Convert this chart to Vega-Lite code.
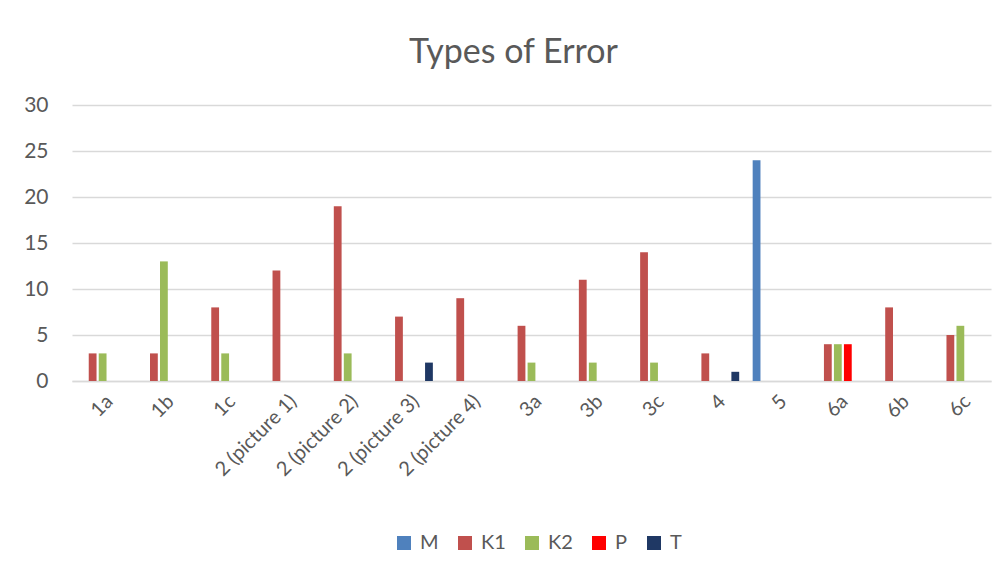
{
  "$schema": "https://vega.github.io/schema/vega-lite/v6.json",
  "width": 919,
  "height": 276,
  "autosize": {"type": "none"},
  "padding": {"left": 72, "top": 105, "right": 17, "bottom": 195},
  "background": "white",
  "title": {
    "text": "Types of Error",
    "anchor": "middle",
    "font": "Lato",
    "fontSize": 34,
    "fontWeight": "normal",
    "color": "#595959",
    "offset": 24,
    "dx": -18
  },
  "data": {
    "values": [
      {"q": "1a", "s": "K1", "v": 3}, {"q": "1a", "s": "K2", "v": 3},
      {"q": "1b", "s": "K1", "v": 3}, {"q": "1b", "s": "K2", "v": 13},
      {"q": "1c", "s": "K1", "v": 8}, {"q": "1c", "s": "K2", "v": 3},
      {"q": "2 (picture 1)", "s": "K1", "v": 12},
      {"q": "2 (picture 2)", "s": "K1", "v": 19}, {"q": "2 (picture 2)", "s": "K2", "v": 3},
      {"q": "2 (picture 3)", "s": "K1", "v": 7}, {"q": "2 (picture 3)", "s": "T", "v": 2},
      {"q": "2 (picture 4)", "s": "K1", "v": 9},
      {"q": "3a", "s": "K1", "v": 6}, {"q": "3a", "s": "K2", "v": 2},
      {"q": "3b", "s": "K1", "v": 11}, {"q": "3b", "s": "K2", "v": 2},
      {"q": "3c", "s": "K1", "v": 14}, {"q": "3c", "s": "K2", "v": 2},
      {"q": "4", "s": "K1", "v": 3}, {"q": "4", "s": "T", "v": 1},
      {"q": "5", "s": "M", "v": 24},
      {"q": "6a", "s": "K1", "v": 4}, {"q": "6a", "s": "K2", "v": 4}, {"q": "6a", "s": "P", "v": 4},
      {"q": "6b", "s": "K1", "v": 8},
      {"q": "6c", "s": "K1", "v": 5}, {"q": "6c", "s": "K2", "v": 6}
    ]
  },
  "mark": {"type": "bar"},
  "encoding": {
    "x": {
      "field": "q",
      "type": "nominal",
      "sort": ["1a", "1b", "1c", "2 (picture 1)", "2 (picture 2)", "2 (picture 3)", "2 (picture 4)", "3a", "3b", "3c", "4", "5", "6a", "6b", "6c"],
      "scale": {"paddingInner": 0.22, "paddingOuter": 0.11},
      "axis": {
        "title": null,
        "labelAngle": -45,
        "labelFont": "Lato",
        "labelFontSize": 20,
        "labelColor": "#595959",
        "labelPadding": 10,
        "ticks": false,
        "domainColor": "#d9d9d9",
        "domainWidth": 1.5
      }
    },
    "xOffset": {
      "field": "s",
      "type": "nominal",
      "scale": {"domain": ["M", "K1", "K2", "P", "T"], "paddingInner": 0.22, "paddingOuter": 0}
    },
    "y": {
      "field": "v",
      "type": "quantitative",
      "scale": {"domain": [0, 30], "nice": false},
      "axis": {
        "title": null,
        "values": [0, 5, 10, 15, 20, 25, 30],
        "labelFont": "Lato",
        "labelFontSize": 21,
        "labelColor": "#595959",
        "labelPadding": 24,
        "ticks": false,
        "tickSize": 0,
        "domain": false,
        "gridColor": "#d9d9d9",
        "gridWidth": 1.5
      }
    },
    "color": {
      "field": "s",
      "type": "nominal",
      "scale": {"domain": ["M", "K1", "K2", "P", "T"], "range": ["#4f81bd", "#c0504d", "#9bbb59", "#ff0000", "#1f3864"]},
      "legend": {
        "title": null,
        "orient": "none",
        "direction": "horizontal",
        "legendX": 322,
        "legendY": 428,
        "symbolType": "square",
        "symbolSize": 196,
        "symbolStrokeWidth": 0,
        "labelFont": "Lato",
        "labelFontSize": 20,
        "labelColor": "#595959",
        "labelOffset": 6,
        "columnPadding": 16
      }
    }
  },
  "config": {"view": {"stroke": null}}
}
